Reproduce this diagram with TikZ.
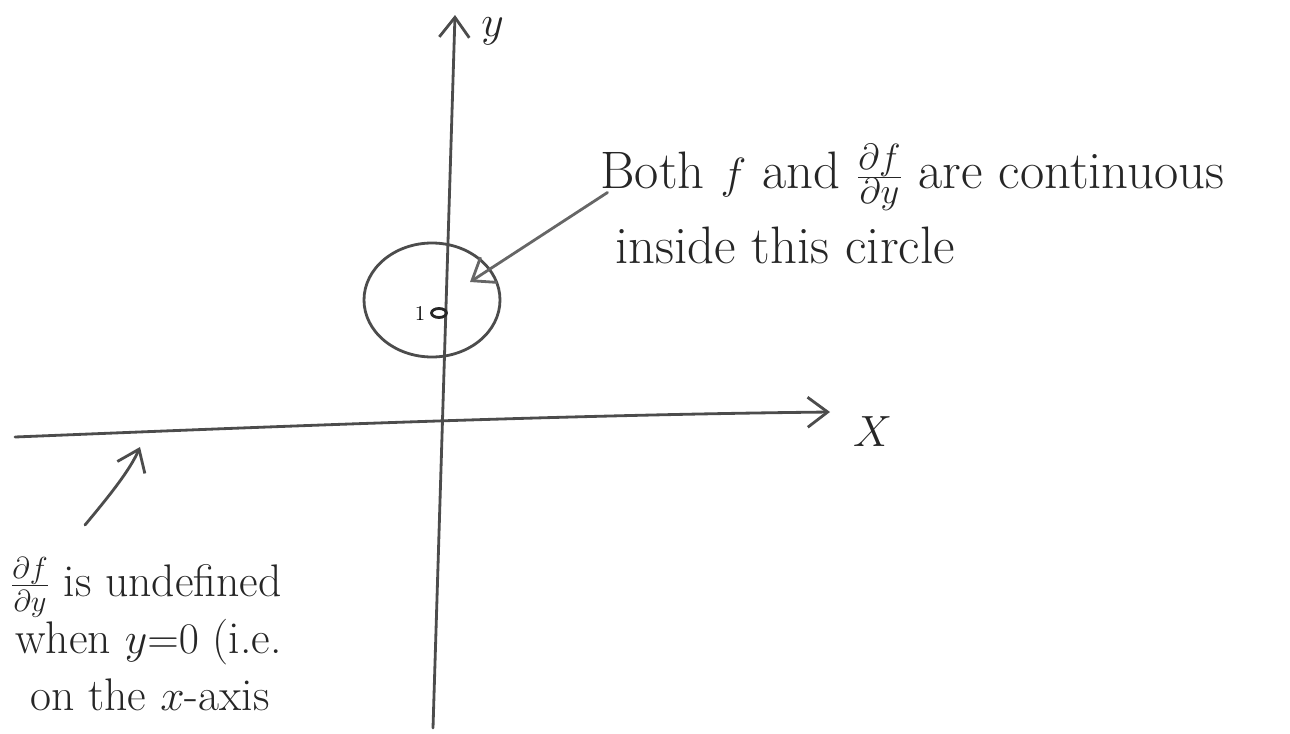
\documentclass[tikz,border=0pt]{standalone}
\usetikzlibrary{arrows.meta,shapes.geometric}
\begin{document}
\begin{tikzpicture}[
  line/.style={draw=black!70, line width=1.6pt, line cap=round, line join=round},
  hand/.style={-{Straight Barb[length=4mm,width=6mm,line width=1.6pt]}},
  lbl/.style={inner sep=0pt, anchor=west, text=black!85, font=\fontsize{30}{34}\selectfont},
  lbs/.style={inner sep=0pt, anchor=west, text=black!85, font=\fontsize{26}{30}\selectfont}
]
\useasboundingbox (0,0) rectangle (25.8,-14.66);
% axes
\coordinate (ybot) at (8.66,-14.56);
\coordinate (ytop) at (9.1,-0.3);
\coordinate (xleft) at (0.3,-8.74);
\coordinate (xright) at (16.6,-8.24);
\draw[line,hand] (ybot) -- (ytop);
\draw[line,hand] (xleft) .. controls (5,-8.55) and (11,-8.3) .. (xright);
\node[lbs, anchor=center] (ylab) at (9.85,-0.62) {$y$};
\node[lbs, anchor=center] (xlab) at (17.45,-8.64) {$X$};
% circle and point
\node[line, ellipse, minimum width=2.72cm, minimum height=2.28cm, inner sep=0pt] (circ) at (8.64,-6.0) {};
\node[draw=black!85, line width=1.6pt, ellipse, minimum width=0.3cm, minimum height=0.18cm, inner sep=0pt] (pt) at (8.78,-6.26) {};
\node[inner sep=0pt, font=\fontsize{12}{14}\selectfont] (one) at (8.4,-6.26) {1};
% upper annotation
\node[lbl] (t1) at (12.0,-3.55) {Both $f$ and $\frac{\partial f}{\partial y}$ are continuous};
\node[lbl] (t2) at (12.3,-4.9) {inside this circle};
\coordinate (a1start) at (12.15,-3.85);
\coordinate (a1end) at (9.4,-5.64);
\draw[line,hand, draw=black!60] (a1start) -- (a1end);
% lower annotation
\node[lbs] (b1) at (0.2,-11.75) {$\frac{\partial f}{\partial y}$ is undefined};
\node[lbs] (b2) at (0.3,-12.85) {when $y{=}0$ (i.e.};
\node[lbs] (b3) at (0.6,-13.9) {on the $x$-axis};
\coordinate (a2end) at (2.8,-8.94);
\coordinate (a2start) at (1.7,-10.5);
\draw[line,hand] (a2start) .. controls (2.2,-9.9) and (2.6,-9.4) .. (a2end);
\end{tikzpicture}
\end{document}
